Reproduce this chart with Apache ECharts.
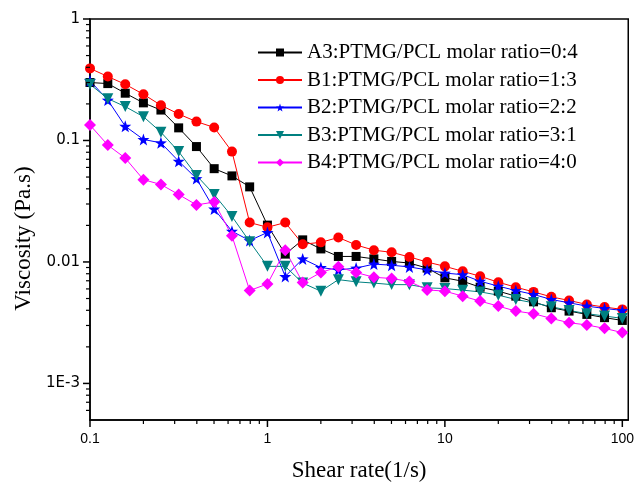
<!DOCTYPE html>
<html>
<head>
<meta charset="utf-8">
<script src="https://cdn.jsdelivr.net/npm/echarts@6/dist/echarts.min.js"></script>
<style>
html,body{margin:0;padding:0;background:#fff;}
#chart{width:637px;height:487px;}
</style>
</head>
<body>
<div id="chart"></div>
<script>
// Shear rate (1/s)
const shearRate = [0.1,0.126,0.158,0.2,0.251,0.316,0.398,0.501,0.631,0.794,
  1,1.26,1.58,2,2.51,3.16,3.98,5.01,6.31,7.94,
  10,12.6,15.8,20,25.1,31.6,39.8,50.1,63.1,79.4,100];

// Viscosity (Pa.s)
const a3 = [0.300,0.294,0.245,0.204,0.178,0.127,0.0891,0.0586,0.0511,0.0415,
  0.0201,0.0116,0.0152,0.0128,0.0111,0.0111,0.0106,0.0101,0.0098,0.0089,
  0.0074,0.00694,0.0062,0.00575,0.00523,0.0047,0.0042,0.00394,0.0037,0.00348,0.0033];
const b1 = [0.392,0.336,0.290,0.240,0.195,0.165,0.143,0.128,0.081,0.0211,
  0.0193,0.0211,0.0140,0.0145,0.0159,0.0138,0.0125,0.0120,0.0110,0.00998,
  0.0092,0.00838,0.00762,0.00681,0.00620,0.00567,0.00516,0.00482,0.00447,0.00425,0.00407];
const b2 = [0.310,0.215,0.131,0.102,0.0956,0.0675,0.0486,0.0273,0.0179,0.0150,
  0.0175,0.0076,0.0106,0.0090,0.0086,0.0089,0.0096,0.0094,0.0091,0.0086,
  0.0081,0.00786,0.00694,0.00632,0.00582,0.0054,0.00491,0.00461,0.00433,0.00414,0.00399];
const b3 = [0.290,0.221,0.190,0.157,0.117,0.081,0.0516,0.0359,0.0237,0.0147,
  0.0092,0.0092,0.0067,0.00575,0.00715,0.00686,0.0067,0.00651,0.0065,0.00612,
  0.00604,0.00586,0.00567,0.00533,0.00491,0.00461,0.00428,0.00399,0.00375,0.00359,0.00343];
const b4 = [0.134,0.0916,0.0716,0.0476,0.0434,0.0359,0.0295,0.0311,0.0164,0.00582,
  0.00659,0.0125,0.00676,0.00819,0.00912,0.00819,0.00748,0.00731,0.00691,0.00589,
  0.00575,0.00523,0.00476,0.00433,0.00394,0.00375,0.00343,0.00316,0.00303,0.00284,0.00262];

const seriesNames = ['A3:PTMG/PCL molar ratio=0:4','B1:PTMG/PCL molar ratio=1:3',
  'B2:PTMG/PCL molar ratio=2:2','B3:PTMG/PCL molar ratio=3:1','B4:PTMG/PCL molar ratio=4:0'];

// Tick values and labels
const xTickValues = [0.1,1,10,100];
const xTickLabels = ['0.1','1','10','100'];
const yTickValues = [0.001,0.01,0.1,1];
const yTickLabels = ['1E-3','0.01','0.1','1'];
const xMinorTicks = [0.2,0.3,0.4,0.5,0.6,0.7,0.8,0.9,2,3,4,5,6,7,8,9,20,30,40,50,60,70,80,90];
const yMinorTicks = [0.0006,0.0007,0.0008,0.0009,0.002,0.003,0.004,0.005,0.006,0.007,0.008,0.009,
  0.02,0.03,0.04,0.05,0.06,0.07,0.08,0.09,0.2,0.3,0.4,0.5,0.6,0.7,0.8,0.9];

function lookup(vals, labels){
  return function(v){
    for (let i=0;i<vals.length;i++){
      if (Math.abs(Math.log10(vals[i]) - Math.log10(v)) < 1e-6) return labels[i];
    }
    return '';
  };
}

const starPath = 'path://M0,-10L2.35,-3.24L9.51,-3.09L3.8,1.24L5.88,8.09L0,4.2L-5.88,8.09L-3.8,1.24L-9.51,-3.09L-2.35,-3.24Z';

const X_MIN = 0.1, X_MAX = 108, Y_MIN = 0.0005, Y_MAX = 1;

const styles = [
  {data:a3, color:'#000000', symbol:'rect', size:9},
  {data:b1, color:'#ff0000', symbol:'circle', size:10},
  {data:b2, color:'#0000ff', symbol:starPath, size:12},
  {data:b3, color:'#008080', symbol:'triangle', size:11, rotate:180},
  {data:b4, color:'#ff00ff', symbol:'diamond', size:12}
];

// Tick marks drawn through the axes' own scales (api.coord), outward from the axis lines
function tickSeries(values, axis, len, width){
  return {
    type:'custom', silent:true, clip:false, xAxisIndex:0, yAxisIndex:0, z:5,
    data: values.map(v => axis === 'x' ? [v, Y_MIN] : [X_MIN, v]),
    renderItem: function(params, api){
      const p = api.coord([api.value(0), api.value(1)]);
      const shape = axis === 'x'
        ? {x1:p[0], y1:p[1], x2:p[0], y2:p[1] + len}
        : {x1:p[0] - len, y1:p[1], x2:p[0], y2:p[1]};
      return {type:'line', shape:shape, style:{stroke:'#000', lineWidth:width}};
    }
  };
}

const lineSeries = styles.map((s,i)=>({
  name: seriesNames[i],
  type:'line',
  xAxisIndex:0, yAxisIndex:0,
  data: shearRate.map((x,k)=>[x, s.data[k]]),
  symbol: s.symbol, symbolSize: s.size, symbolRotate: s.rotate || 0,
  showAllSymbol:true,
  lineStyle:{color:s.color, width:1},
  itemStyle:{color:s.color}
}));

const chart = echarts.init(document.getElementById('chart'));
chart.setOption({
  animation:false,
  grid:{left:90, right:6, top:19, bottom:64, show:true, borderColor:'#000', borderWidth:1.5},
  legend:{
    orient:'vertical', left:257, top:42, padding:0,
    itemWidth:44, itemHeight:10, itemGap:6.5,
    textStyle:{fontFamily:'Liberation Serif', fontSize:21, color:'#000', lineHeight:21},
    data: seriesNames
  },
  xAxis:{
    type:'log', min:X_MIN, max:X_MAX, position:'bottom',
    name:'Shear rate(1/s)', nameLocation:'middle', nameGap:39,
    nameTextStyle:{fontFamily:'Liberation Serif', fontSize:23, color:'#000'},
    axisLine:{show:true, lineStyle:{color:'#000', width:1.5}},
    axisTick:{show:false},
    axisLabel:{show:true, margin:12, fontFamily:'Liberation Sans', fontSize:14, color:'#000',
      customValues:xTickValues, formatter:lookup(xTickValues, xTickLabels)},
    splitLine:{show:false}
  },
  yAxis:{
    type:'log', min:Y_MIN, max:Y_MAX, position:'left',
    name:'Viscosity (Pa.s)', nameLocation:'middle', nameGap:52,
    nameTextStyle:{fontFamily:'Liberation Serif', fontSize:23, color:'#000', padding:[0,38,0,0]},
    axisLine:{show:true, lineStyle:{color:'#000', width:1.5}},
    axisTick:{show:false},
    axisLabel:{show:true, margin:10, fontFamily:'DejaVu Sans', fontSize:15, color:'#000',
      customValues:yTickValues, formatter:lookup(yTickValues, yTickLabels)},
    splitLine:{show:false}
  },
  series: [
    tickSeries(xTickValues, 'x', 7, 1.5),
    tickSeries(xMinorTicks, 'x', 4, 1.2),
    tickSeries(yTickValues, 'y', 7, 1.5),
    tickSeries(yMinorTicks, 'y', 4, 1.2)
  ].concat(lineSeries)
});
</script>
</body>
</html>
